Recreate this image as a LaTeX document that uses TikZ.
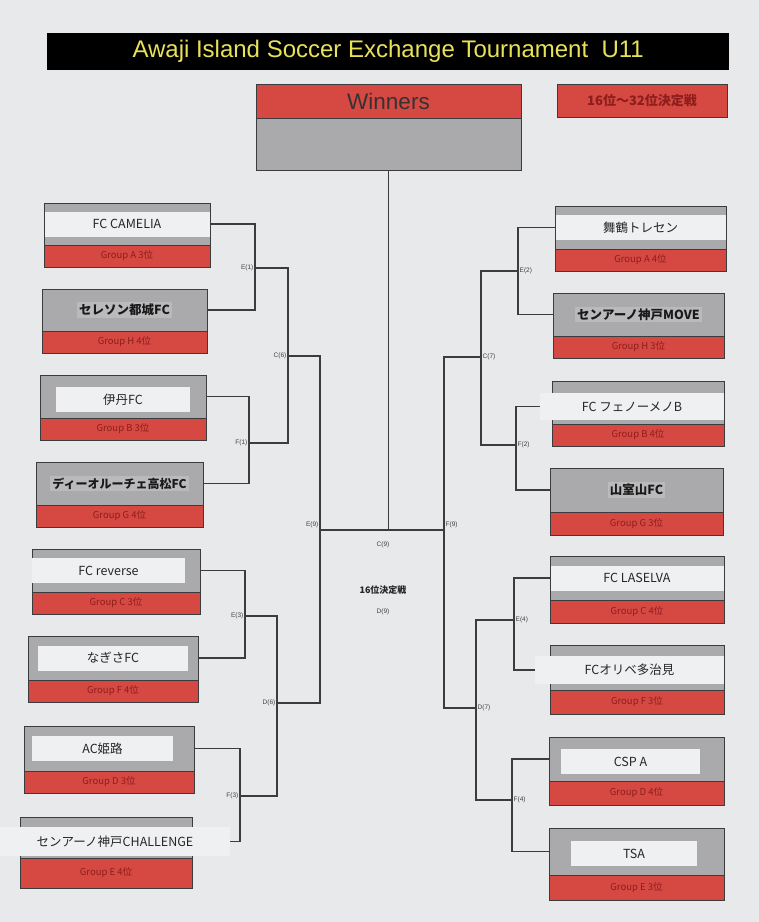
\documentclass[tikz,border=0pt]{standalone}
\usepackage{fontspec}
\setmainfont{Liberation Sans}
\newfontfamily\jp{Noto Sans CJK JP}
\definecolor{bg}{RGB}{232,233,235}
\definecolor{boxgray}{RGB}{170,170,172}
\definecolor{boxred}{RGB}{214,72,66}
\definecolor{bandwhite}{RGB}{238,240,242}
\definecolor{hilite}{RGB}{186,186,188}
\definecolor{grptext}{RGB}{140,30,28}
\definecolor{linec}{RGB}{60,60,62}
\definecolor{titley}{RGB}{232,226,90}
\tikzset{
  gbox/.style={draw=linec, line width=1pt, fill=boxgray, inner sep=0pt, outer sep=0pt},
  rbox/.style={draw=linec, line width=1pt, fill=boxred, inner sep=0pt, outer sep=0pt},
  grp/.style={text=grptext, font=\jp\fontsize{9.5}{11}\selectfont},
  band/.style={fill=bandwhite, minimum height=25, inner sep=0pt, outer sep=0pt, text=black!85, font=\jp\fontsize{12.5}{14}\selectfont},
  plainname/.style={fill=hilite, inner sep=2pt, outer sep=0pt, text=black!90, font=\jp\bfseries\fontsize{12.5}{14}\selectfont},
  conn/.style={draw=linec, line width=1.1pt},
  blbl/.style={font=\fontsize{6.5}{7}\selectfont, text=black!75, inner sep=1.5pt},
}
\newcommand\team[9]{%
  \node[gbox, minimum width=#4, minimum height=#5, anchor=north west] (b#1) at (#2,#3) {};
  \node[rbox, grp, minimum width=#4, minimum height=#6, anchor=north west] (g#1) at (b#1.south west) {#9};
  \node[#7] (n#1) at (b#1.center) {#8};
}
\begin{document}
\begin{tikzpicture}[x=1pt,y=-1pt]
\useasboundingbox (0,0) rectangle (759,922);
\fill[bg] (0,0) rectangle (759,922);

% title
\node[fill=black, minimum width=682, minimum height=37, inner sep=0pt, anchor=north west,
      text=titley, font=\fontsize{24}{26}\selectfont] (title) at (47,33)
      {Awaji Island Soccer Exchange Tournament\ \ U11};

% winners
\node[rbox, minimum width=265, minimum height=34, anchor=north west, text=black!80,
      font=\fontsize{22.5}{25}\selectfont] (winT) at (256,84) {Winners};
\node[gbox, minimum width=265, minimum height=52, anchor=north] (winB) at (winT.south) {};
\node[rbox, minimum width=170, minimum height=33, anchor=north west, text=grptext,
      font=\jp\bfseries\fontsize{13}{14}\selectfont] (rank) at (557,84) {16位〜32位決定戦};

% left teams
\team{L1}{44}{203}{166}{42}{22}{band, minimum width=165}{FC CAMELIA}{Group A 3位}
\team{L2}{42}{289}{165}{42}{22}{plainname}{セレソン都城FC}{Group H 4位}
\team{L3}{40}{375}{166}{43}{22}{band, minimum width=134, yshift=-3}{伊丹FC}{Group B 3位}
\team{L4}{36}{462}{167}{43}{22}{plainname, font=\jp\bfseries\fontsize{12}{14}\selectfont}{ディーオルーチェ高松FC}{Group G 4位}
\team{L5}{32}{549}{168}{43}{22}{band, minimum width=153, xshift=-7.5}{FC reverse}{Group C 3位}
\team{L6}{28}{636}{170}{44}{22}{band, minimum width=150}{なぎさFC}{Group F 4位}
\team{L7}{24}{726}{170}{45}{22}{band, minimum width=141, xshift=-6.5}{AC姫路}{Group D 3位}
\team{L8}{20}{817}{172}{41}{30}{band, minimum width=230, minimum height=29, xshift=9, yshift=-4}{センアーノ神戸CHALLENGE}{Group E 4位}

% right teams
\team{R1}{555}{206}{171}{43}{22}{band, minimum width=170}{舞鶴トレセン}{Group A 4位}
\team{R2}{553}{293}{171}{43}{22}{plainname}{センアーノ神戸MOVE}{Group H 3位}
\team{R3}{552}{381}{172}{43}{22}{band, minimum width=184, minimum height=27, xshift=-6, yshift=-4}{FC フェノーメノB}{Group B 4位}
\team{R4}{550}{468}{173}{44}{23}{plainname}{山室山FC}{Group G 3位}
\team{R5}{550}{556}{174}{44}{23}{band, minimum width=173}{FC LASELVA}{Group C 4位}
\team{R6}{550}{645}{174}{45}{24}{band, minimum width=189, minimum height=28, xshift=-7.5, yshift=-2.5}{FCオリベ多治見}{Group F 3位}
\team{R7}{549}{737}{175}{44}{24}{band, minimum width=139, xshift=-6, yshift=-2.5}{CSP A}{Group D 4位}
\team{R8}{549}{828}{175}{47}{25}{band, minimum width=126, xshift=-2.5, yshift=-2}{TSA}{Group E 3位}

% bracket joints
\coordinate (E1) at (255,268);
\coordinate (F1) at (249,443);
\coordinate (C6) at (288,356);
\coordinate (E3) at (245,616);
\coordinate (F3) at (240,796);
\coordinate (D6) at (277,703);
\coordinate (E9) at (320,530);
\coordinate (E2) at (518,271);
\coordinate (F2) at (516,445);
\coordinate (C7) at (481,357);
\coordinate (E4) at (514,620);
\coordinate (F4) at (512,800);
\coordinate (D7) at (476,708);
\coordinate (F9) at (444,530);

% left connectors
\draw[conn] (bL1.east) -| (E1) |- (bL2.east);
\draw[conn] (bL3.east) -| (F1) |- (bL4.east);
\draw[conn] (E1) -| (C6) |- (F1);
\draw[conn] (bL5.east) -| (E3) |- (bL6.east);
\draw[conn] (bL7.east) -| (F3) |- (nL8.east);
\draw[conn] (E3) -| (D6) |- (F3);
\draw[conn] (C6) -| (E9) |- (D6);
% right connectors
\draw[conn] (bR1.west) -| (E2) |- (bR2.west);
\draw[conn] (nR3.west) -| (F2) |- (bR4.west);
\draw[conn] (E2) -| (C7) |- (F2);
\draw[conn] (bR5.west) -| (E4) |- (nR6.west);
\draw[conn] (bR7.west) -| (F4) |- (bR8.west);
\draw[conn] (E4) -| (D7) |- (F4);
\draw[conn] (C7) -| (F9) |- (D7);
% centre
\draw[conn] (E9) -- (F9);
\draw[conn] (winB.south) -- (winB.south |- E9);

% labels
\node[blbl, anchor=east] (lE1) at (E1) {E(1)};
\node[blbl, anchor=east] (lC6) at (C6) {C(6)};
\node[blbl, anchor=east] (lF1) at (F1) {F(1)};
\node[blbl, anchor=south east] (lE9) at (E9) {E(9)};
\node[blbl, anchor=east] (lE3) at (E3) {E(3)};
\node[blbl, anchor=east] (lD6) at (D6) {D(6)};
\node[blbl, anchor=east] (lF3) at (F3) {F(3)};
\node[blbl, anchor=west] (lE2) at (E2) {E(2)};
\node[blbl, anchor=west] (lC7) at (C7) {C(7)};
\node[blbl, anchor=west] (lF2) at (F2) {F(2)};
\node[blbl, anchor=south west] (lF9) at (F9) {F(9)};
\node[blbl, anchor=west] (lE4) at (E4) {E(4)};
\node[blbl, anchor=west] (lD7) at (D7) {D(7)};
\node[blbl, anchor=west] (lF4) at (F4) {F(4)};
\node[blbl] (c9) at (383,545) {C(9)};
\node[text=black!85, font=\jp\bfseries\fontsize{9}{10}\selectfont] (r16) at (383,590) {16位決定戦};
\node[blbl] (d9) at (383,612) {D(9)};
\end{tikzpicture}
\end{document}
